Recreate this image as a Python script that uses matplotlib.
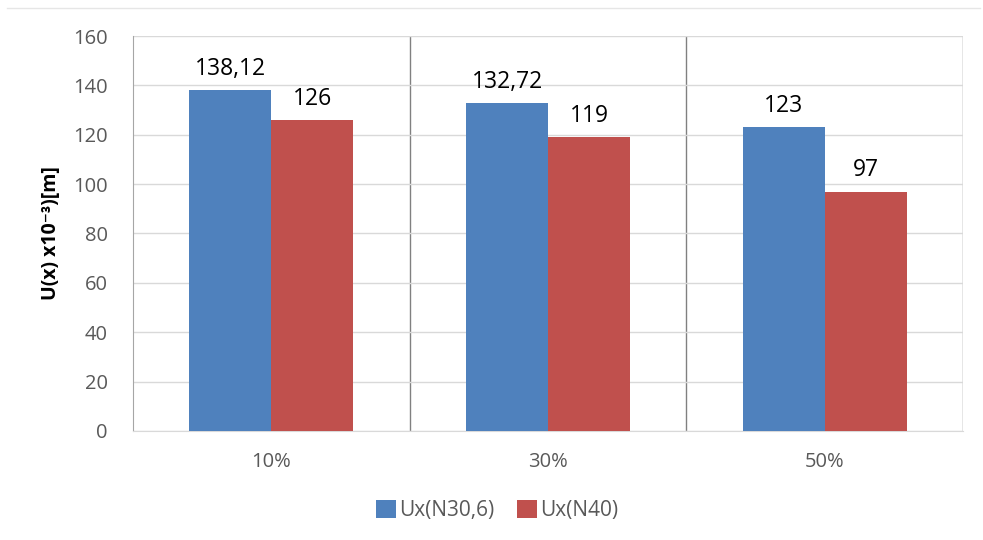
import numpy as np
import matplotlib.pyplot as plt
from matplotlib.patches import Patch
from matplotlib.lines import Line2D

plt.rcParams['font.family'] = ['Open Sans', 'DejaVu Sans']

categories = ['10%', '30%', '50%']
series_names = ['Ux(N30,6)', 'Ux(N40)']
ux_n30 = [138.12, 132.72, 123]
ux_n40 = [126, 119, 97]
labels_n30 = ['138,12', '132,72', '123']
labels_n40 = ['126', '119', '97']
colors = ['#4f81bd', '#c0504d']

fig = plt.figure(figsize=(9.83, 5.4), dpi=100)
ax = fig.add_axes([0.1353, 0.2019, 0.8444, 0.7314])

x = np.arange(len(categories))
w = 0.296
b1 = ax.bar(x - w / 2, ux_n30, w, color=colors[0], zorder=3)
b2 = ax.bar(x + w / 2, ux_n40, w, color=colors[1], zorder=3)

# etiquetas de datos sobre cada barra
for bars, labs in [(b1, labels_n30), (b2, labels_n40)]:
    for rect, lab in zip(bars, labs):
        ax.annotate(lab, (rect.get_x() + rect.get_width() / 2, rect.get_height()),
                    xytext=(0, 11), textcoords='offset points',
                    ha='center', va='baseline', fontsize=16.5, color='black')

ax.set_xlim(-0.5, len(categories) - 0.5)
ax.set_ylim(0, 160)
ax.set_yticks(range(0, 161, 20))
ax.set_xticks(x)
ax.set_xticklabels(categories)
ax.tick_params(axis='both', length=0, labelsize=14.5, colors='#595959')
ax.tick_params(axis='x', pad=15)
ax.tick_params(axis='y', pad=18)

ax.yaxis.grid(True, color='#d9d9d9', linewidth=1, zorder=0)
for xv in x + 0.5:
    ax.axvline(xv, color='#808080', linewidth=1, zorder=1)

for s in ['top', 'right']:
    ax.spines[s].set_visible(False)
ax.spines['left'].set_color('#a6a6a6')
ax.spines['bottom'].set_color('#d9d9d9')

ax.set_ylabel('U(x) x10⁻³)[m]', fontsize=14, fontweight='bold',
              color='black', labelpad=9)

handles = [Patch(facecolor=c, edgecolor='none') for c in colors]
fig.legend(handles, series_names, loc='center', bbox_to_anchor=(0.506, 0.055),
           ncol=2, frameon=False, fontsize=15, labelcolor='#595959',
           handlelength=0.95, handleheight=0.95, handletextpad=0.15, columnspacing=1.1)

fig.add_artist(Line2D([0.007, 0.997], [0.985, 0.985], color='#e6e6e6', linewidth=1))

fig.savefig('out.png', dpi=100, facecolor='white')
